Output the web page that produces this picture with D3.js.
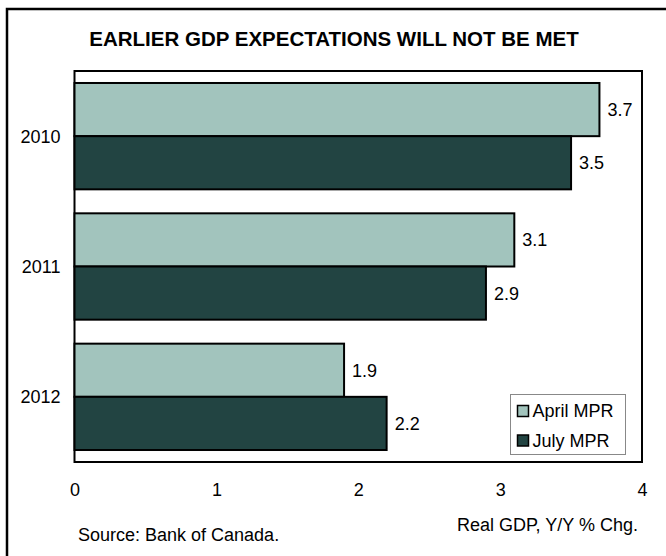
<!DOCTYPE html>
<html>
<head>
<meta charset="utf-8">
<script src="https://cdn.jsdelivr.net/npm/d3@7"></script>
<style>
  body { margin: 0; background: #fff; }
  svg { display: block; font-family: "Liberation Sans", Arial, sans-serif; }
</style>
</head>
<body>
<svg></svg>
<script>
// data
const years = ["2010", "2011", "2012"];
const seriesNames = ["April MPR", "July MPR"];
const aprilMPR = [3.7, 3.1, 1.9];
const julyMPR = [3.5, 2.9, 2.2];
const xTicks = [0, 1, 2, 3, 4];
const colors = ["#a2c4bd", "#224442"];

const W = 666, H = 556;
const margin = { top: 71, right: 24, bottom: 94, left: 74.5 };
const width = W - margin.left - margin.right;
const height = H - margin.top - margin.bottom;

const svg = d3.select("svg").attr("width", W).attr("height", H);

// outer frame (runs past the right and bottom edge)
svg.append("rect")
  .attr("x", 7).attr("y", 9)
  .attr("width", 700).attr("height", 600)
  .attr("fill", "none").attr("stroke", "#000").attr("stroke-width", 2.5);

svg.append("text")
  .attr("x", 334).attr("y", 46)
  .attr("text-anchor", "middle")
  .attr("font-weight", "bold")
  .style("font-size", "20.5px")
  .text("EARLIER GDP EXPECTATIONS WILL NOT BE MET");

const g = svg.append("g").attr("transform", `translate(${margin.left},${margin.top})`);

const x = d3.scaleLinear().domain([0, 4]).range([0, width]);
const y = d3.scaleBand().domain(years).range([0, height]).paddingInner(0.184).paddingOuter(0.092);
const ySub = d3.scaleBand().domain(seriesNames).range([0, y.bandwidth()]);

// plot frame
g.append("rect")
  .attr("width", width).attr("height", height)
  .attr("fill", "#fff").attr("stroke", "#000").attr("stroke-width", 2);

const rows = years.map((yr, i) => ({ year: yr, values: [aprilMPR[i], julyMPR[i]] }));

const grp = g.selectAll(".grp").data(rows).enter().append("g")
  .attr("class", "grp")
  .attr("transform", (d) => `translate(0,${y(d.year)})`);

grp.selectAll("rect")
  .data((d) => d.values.map((v, j) => ({ name: seriesNames[j], value: v, j })))
  .enter().append("rect")
  .attr("x", 0)
  .attr("y", (d) => ySub(d.name))
  .attr("width", (d) => x(d.value))
  .attr("height", ySub.bandwidth())
  .attr("fill", (d) => colors[d.j])
  .attr("stroke", "#000")
  .attr("stroke-width", 2);

grp.selectAll(".val")
  .data((d) => d.values.map((v, j) => ({ name: seriesNames[j], value: v })))
  .enter().append("text")
  .attr("class", "val")
  .attr("x", (d) => x(d.value) + 8)
  .attr("y", (d) => ySub(d.name) + ySub.bandwidth() / 2)
  .attr("dy", "0.36em")
  .style("font-size", "18px")
  .text((d) => d.value.toFixed(1));

// category labels
g.selectAll(".ylab").data(years).enter().append("text")
  .attr("class", "ylab")
  .attr("x", -14)
  .attr("y", (d) => y(d) + y.bandwidth() / 2)
  .attr("dy", "0.36em")
  .attr("text-anchor", "end")
  .style("font-size", "18px")
  .text((d) => d);

// x axis, labels only
const xAxis = g.append("g")
  .attr("transform", `translate(0,${height})`)
  .call(d3.axisBottom(x).tickValues(xTicks).tickFormat(d3.format("d")).tickSize(0).tickPadding(21));
xAxis.select(".domain").remove();
xAxis.selectAll("text").style("font-size", "18px").attr("font-family", null);

svg.append("text")
  .attr("x", 638).attr("y", 531)
  .attr("text-anchor", "end")
  .style("font-size", "18px")
  .text("Real GDP, Y/Y % Chg.");

svg.append("text")
  .attr("x", 78).attr("y", 541)
  .style("font-size", "18px")
  .text("Source: Bank of Canada.");

// legend
const lg = svg.append("g").attr("transform", "translate(510.5,394.5)");
lg.append("rect")
  .attr("width", 115).attr("height", 60)
  .attr("fill", "#fff").attr("stroke", "#888").attr("stroke-width", 1);
const li = lg.selectAll(".li").data(seriesNames).enter().append("g")
  .attr("transform", (d, i) => `translate(7,${11 + i * 29.5})`);
li.append("rect")
  .attr("width", 11).attr("height", 11)
  .attr("fill", (d, i) => colors[i])
  .attr("stroke", "#000").attr("stroke-width", 1.5);
li.append("text")
  .attr("x", 15).attr("y", 11.5)
  .style("font-size", "18px")
  .text((d) => d);
</script>
</body>
</html>
